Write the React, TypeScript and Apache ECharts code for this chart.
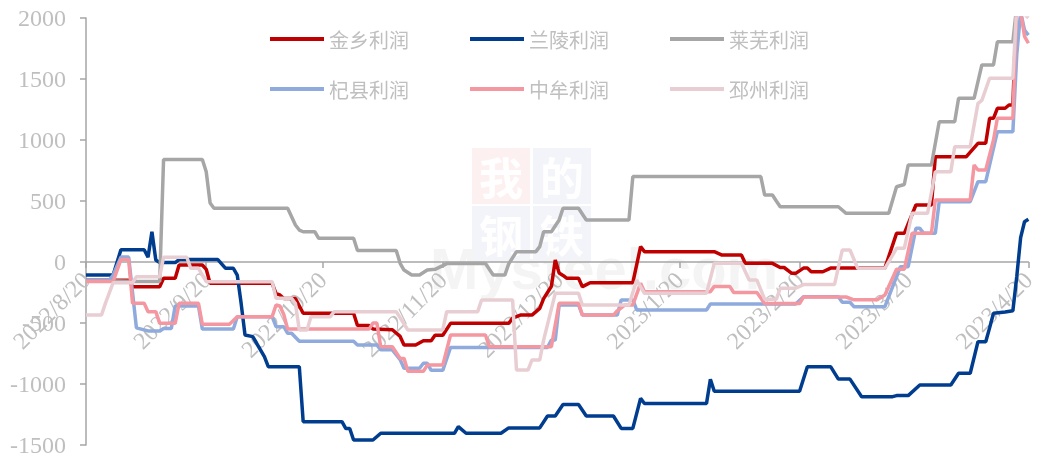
import React, { useEffect, useRef } from "react";
import * as echarts from "echarts";

// x = days since 2022/8/20
const tickDays = [0, 31, 61, 92, 122, 153, 184, 212, 243];
const tickLabels = ["2022/8/20", "2022/9/20", "2022/10/20", "2022/11/20", "2022/12/20", "2023/1/20", "2023/2/20", "2023/3/20", "2023/4/20"];

const seriesNames = ["金乡利润", "兰陵利润", "莱芜利润", "杞县利润", "中牟利润", "邳州利润"];
const seriesColors = ["#C00000", "#003D8F", "#A6A6A6", "#8FAADC", "#F497A1", "#E8CED2"];

const jinxiang = [
  [0, -150], [11, -150], [12, -202], [19, -202], [20, -134], [23, -134], [24, -25], [30, -25], [31, -60], [32, -175],
  [48, -175], [49, -260], [50, -270], [51, -300], [54, -300], [56, -420], [69, -420], [70, -520], [73, -520], [74, -550],
  [79, -555], [81, -610], [82, -680], [85, -680], [87, -645], [89, -645], [90, -600], [92, -600], [94, -503], [109, -503],
  [110, -460], [112, -435], [115, -435], [117, -380], [118, -300], [119, -250], [120, -200], [121, 16], [122, -90], [123, -110],
  [124, -134], [127, -134], [128, -202], [130, -170], [141, -170], [143, 126], [144, 85], [162, 85], [164, 57], [169, 57],
  [170, -11], [177, -11], [179, -45], [180, -45], [182, -93], [183, -93], [185, -50], [186, -50], [187, -80], [190, -80],
  [192, -50], [206, -50], [209, 235], [211, 235], [214, 467], [218, 467], [219, 863], [227, 863], [230, 973], [232, 973],
  [233, 1178], [234, 1178], [235, 1260], [237, 1260], [238, 1287], [239, 1287], [240, 2150], [243, 2100],
];

const lanling = [
  [0, -107], [7, -107], [9, 100], [15, 100], [16, 40], [17, 248], [18, 16], [19, -5], [23, -5], [24, 20],
  [34, 20], [36, -52], [38, -52], [39, -107], [40, -339], [41, -598], [43, -612], [44, -666], [46, -776], [47, -858],
  [55, -858], [56, -1309], [66, -1309], [67, -1365], [68, -1365], [69, -1459], [74, -1459], [76, -1404], [95, -1404], [96, -1350],
  [98, -1404], [107, -1404], [109, -1360], [117, -1360], [119, -1262], [121, -1262], [123, -1168], [127, -1168], [129, -1262], [136, -1262],
  [138, -1364], [141, -1364], [143, -1118], [144, -1160], [160, -1160], [161, -962], [162, -1060], [184, -1060], [186, -858], [192, -858],
  [194, -960], [197, -960], [200, -1104], [208, -1104], [209, -1095], [212, -1095], [215, -1008], [223, -1008], [225, -912], [228, -912],
  [230, -653], [232, -653], [233, -540], [234, -420], [237, -410], [239, -400], [240, -120], [241, 200], [242, 330], [243, 350],
];

const laiwu = [
  [0, -150], [13, -160], [19, -160], [20, 840], [30, 840], [31, 740], [32, 483], [33, 440], [52, 440], [54, 303],
  [55, 262], [56, 248], [59, 248], [60, 194], [69, 194], [70, 95], [80, 95], [81, -11], [82, -66], [84, -107],
  [86, -107], [88, -66], [90, -60], [92, -30], [93, -13], [103, -13], [105, -107], [108, -107], [109, -15], [111, 85],
  [116, 85], [117, 126], [118, 248], [120, 248], [122, 344], [123, 440], [127, 440], [129, 344], [140, 344], [141, 700],
  [174, 700], [175, 549], [177, 549], [178, 500], [179, 453], [194, 453], [196, 399], [207, 399], [209, 617], [211, 635],
  [212, 795], [218, 795], [220, 1150], [224, 1150], [225, 1342], [229, 1342], [231, 1615], [234, 1615], [235, 1806], [239, 1806],
  [240, 2100], [243, 2200],
];

const qixian = [
  [0, -150], [6, -150], [7, -107], [9, 40], [11, 40], [13, -540], [16, -565], [19, -565], [20, -545], [22, -545],
  [23, -360], [29, -360], [30, -550], [38, -550], [39, -448], [48, -448], [49, -530], [51, -530], [52, -584], [53, -584],
  [55, -650], [69, -650], [70, -680], [75, -680], [76, -720], [79, -720], [81, -800], [82, -871], [86, -871], [87, -830],
  [88, -830], [89, -888], [92, -888], [94, -700], [119, -700], [120, -640], [121, -640], [122, -352], [127, -352], [128, -435],
  [137, -435], [138, -311], [141, -311], [142, -393], [160, -393], [161, -344], [183, -344], [185, -285], [194, -285], [195, -330],
  [197, -330], [198, -366], [206, -366], [209, -120], [210, -38], [212, -38], [214, 276], [215, 276], [216, 235], [219, 235],
  [220, 494], [228, 494], [230, 658], [232, 658], [235, 1068], [239, 1068], [240, 1700], [241, 2050], [242, 1900], [243, 1860],
];

const zhongmou = [
  [0, -160], [7, -160], [9, 20], [11, 20], [12, -339], [15, -339], [16, -407], [18, -407], [19, -503], [23, -503],
  [24, -339], [29, -339], [30, -510], [37, -510], [39, -448], [48, -448], [49, -352], [50, -360], [51, -430], [52, -550],
  [73, -550], [74, -500], [75, -500], [76, -694], [79, -694], [81, -790], [82, -790], [83, -895], [87, -895], [88, -845],
  [92, -845], [94, -598], [103, -598], [104, -694], [120, -694], [122, -339], [127, -339], [128, -435], [136, -435], [137, -400],
  [139, -352], [141, -352], [143, -175], [144, -243], [161, -243], [162, -200], [166, -200], [167, -250], [173, -250], [175, -340],
  [184, -340], [185, -287], [196, -287], [198, -310], [204, -310], [206, -270], [209, -60], [211, -60], [213, 235], [218, 235],
  [219, 508], [228, 508], [229, 795], [230, 754], [232, 754], [234, 1000], [235, 1178], [239, 1178], [240, 2100], [241, 2050],
  [242, 1850], [243, 1793],
];

const pizhou = [
  [0, -435], [4, -435], [5, -339], [7, -170], [12, -170], [13, -120], [19, -120], [20, 39], [26, 39], [27, -52],
  [29, -52], [31, -161], [48, -161], [49, -298], [53, -298], [54, -340], [55, -557], [57, -557], [58, -448], [63, -448],
  [64, -407], [80, -407], [83, -557], [92, -557], [93, -407], [101, -407], [102, -311], [110, -311], [111, -885], [114, -885],
  [115, -803], [117, -803], [118, -640], [121, -257], [127, -257], [128, -352], [140, -352], [142, -148], [144, -257], [160, -257],
  [162, -11], [169, -11], [171, -148], [173, -148], [175, -306], [178, -306], [179, -215], [183, -215], [185, -185], [193, -185],
  [195, 98], [197, 98], [199, -52], [206, -52], [209, 112], [211, 112], [213, 399], [217, 399], [219, 740], [223, 740],
  [224, 945], [228, 945], [230, 1300], [231, 1325], [233, 1506], [239, 1506], [240, 2100], [243, 2000],
];

const seriesData = [jinxiang, lanling, laiwu, qixian, zhongmou, pizhou];

const yMin = -1500;
const yMax = 2000;
const yStep = 500;

const axisGray = "#A6A6A6";
const textGray = "#BFBFBF";
const serif = "'Liberation Serif', 'Times New Roman', serif";
const cjk = "'Noto Sans CJK SC', sans-serif";

const W = 1039;
const H = 457;
const gridTop = 18;
const gridBottom = 12;

export default function App() {
  const ref = useRef<HTMLDivElement>(null);
  useEffect(() => {
    if (!ref.current) return;
    const chart = echarts.init(ref.current, undefined, { renderer: "svg" });
    const gridH = H - gridTop - gridBottom;
    // lift the x axis from the grid bottom up to the zero line
    const zeroOffset = -(gridH * (0 - yMin)) / (yMax - yMin);
    const legendCommon = {
      left: 270,
      padding: 0,
      icon: "rect",
      itemWidth: 54,
      itemHeight: 4,
      itemGap: 61,
      selectedMode: false,
      textStyle: { color: textGray, fontSize: 20, fontFamily: cjk },
    };
    const wmSquares = [
      { x: 472, y: 148, fill: "#FDF0F0", ch: "我" },
      { x: 533, y: 148, fill: "#F2F4F9", ch: "的" },
      { x: 472, y: 206, fill: "#F2F4F9", ch: "钢" },
      { x: 533, y: 206, fill: "#F2F4F9", ch: "铁" },
    ];
    const graphic: any[] = [];
    wmSquares.forEach((s) => {
      graphic.push({ type: "rect", silent: true, z: 0, shape: { x: s.x, y: s.y, width: 58, height: 56 }, style: { fill: s.fill } });
      graphic.push({
        type: "text", silent: true, z: 0, x: s.x + 29, y: s.y + 28,
        style: { text: s.ch, fill: "#FFFFFF", fontSize: 44, fontWeight: "bold", fontFamily: cjk, align: "center", verticalAlign: "middle" },
      });
    });
    graphic.push({
      type: "text", silent: true, z: 0, x: 430, y: 268,
      style: { text: "Mysteel.com", fill: "#F4F4F4", fontSize: 58, fontWeight: "bold", fontFamily: "'Liberation Sans', Arial, sans-serif", verticalAlign: "middle" },
    });

    chart.setOption({
      animation: false,
      grid: { left: 86, right: 1, top: gridTop, bottom: gridBottom },
      graphic,
      legend: [
        { ...legendCommon, top: 29, data: seriesNames.slice(0, 3) },
        { ...legendCommon, top: 79, data: seriesNames.slice(3, 6) },
      ],
      xAxis: {
        type: "value",
        min: 0,
        max: 243,
        position: "bottom",
        offset: zeroOffset,
        splitLine: { show: false },
        axisLine: { show: true, onZero: false, lineStyle: { color: axisGray, width: 1.5 } },
        axisTick: { show: true, length: 6, customValues: tickDays, lineStyle: { color: axisGray, width: 1.5 } },
        axisLabel: {
          customValues: tickDays,
          rotate: 45,
          margin: 14,
          color: textGray,
          fontFamily: serif,
          fontSize: 24,
          showMinLabel: true,
          showMaxLabel: true,
          formatter: (v: number) => {
            const i = tickDays.indexOf(Math.round(v));
            return i >= 0 ? tickLabels[i] : "";
          },
        },
      },
      yAxis: {
        type: "value",
        min: yMin,
        max: yMax,
        interval: yStep,
        splitLine: { show: false },
        axisLine: { show: true, onZero: false, lineStyle: { color: axisGray, width: 1.5 } },
        axisTick: { show: true, length: 6, lineStyle: { color: axisGray, width: 1.5 } },
        axisLabel: { color: textGray, fontFamily: serif, fontSize: 24, margin: 20, formatter: (v: number) => String(v) },
      },
      series: seriesNames.map((name, i) => ({
        name,
        type: "line",
        data: seriesData[i],
        showSymbol: false,
        symbol: "none",
        clip: true,
        color: seriesColors[i],
        itemStyle: { color: seriesColors[i] },
        lineStyle: { color: seriesColors[i], width: 3.5 },
        z: 2 + i,
      })),
    });
    return () => chart.dispose();
  }, []);
  return <div ref={ref} style={{ position: "fixed", left: 0, top: 0, width: W, height: H }} />;
}
